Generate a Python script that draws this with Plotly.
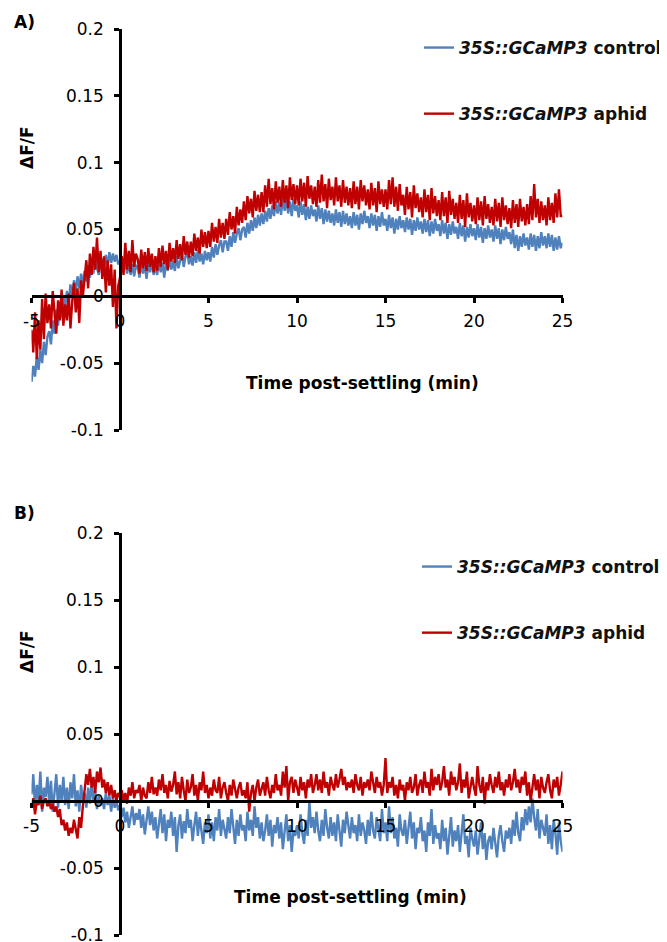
import plotly.graph_objects as go

# Time post-settling (min), sampled every 0.1 min from -5 to 25
T_START, T_STEP = -5.0, 0.1

# ΔF/F values x 1000 (one row = one minute)
control_a_x1000 = [
    -64, -52, -60, -45, -55, -40, -50, -34, -44, -30,
    -26, -36, -18, -28, -10, -22, -4, -16, 0, -8,
    4, -6, 9, 0, 12, 3, 15, 6, 17, 9,
    19, 11, 23, 14, 25, 17, 27, 20, 16, 26,
    28, 21, 31, 23, 33, 25, 32, 26, 31, 24,
    26, 30, 19, 27, 17, 25, 16, 24, 15, 23,
    22, 14, 25, 17, 24, 13, 26, 18, 27, 16,
    23, 16, 27, 18, 25, 14, 26, 19, 28, 20,
    26, 19, 30, 21, 28, 32, 22, 30, 33, 24,
    30, 23, 33, 25, 35, 26, 32, 24, 34, 27,
    33, 26, 37, 29, 39, 31, 38, 42, 33, 41,
    41, 34, 45, 37, 48, 40, 47, 51, 42, 50,
    52, 44, 55, 47, 57, 49, 59, 51, 61, 53,
    62, 54, 64, 56, 66, 58, 68, 60, 71, 62,
    70, 61, 74, 64, 72, 62, 71, 60, 73, 64,
    68, 59, 71, 61, 69, 57, 67, 58, 68, 60,
    65, 56, 68, 58, 66, 54, 65, 56, 64, 55,
    62, 53, 65, 55, 63, 52, 64, 54, 62, 53,
    60, 51, 63, 53, 61, 50, 62, 54, 64, 55,
    60, 51, 62, 53, 61, 49, 60, 52, 63, 53,
    58, 49, 61, 51, 59, 47, 58, 50, 60, 51,
    57, 48, 59, 50, 58, 46, 57, 49, 59, 50,
    56, 47, 58, 48, 57, 45, 56, 47, 58, 49,
    54, 45, 57, 47, 55, 43, 54, 46, 56, 47,
    52, 43, 55, 45, 53, 41, 52, 44, 54, 45,
    51, 42, 54, 44, 52, 40, 51, 43, 53, 44,
    50, 41, 53, 43, 51, 39, 50, 42, 52, 43,
    48, 39, 50, 36, 46, 34, 45, 37, 47, 38,
    44, 35, 47, 37, 46, 34, 45, 36, 48, 38,
    45, 36, 47, 37, 46, 34, 44, 35, 45, 36,
    40,
]

aphid_a_x1000 = [
    -25, -42, -12, -47, -18, -40, -2, -32, 2, -20,
    -6, -24, 4, -14, -28, -3, -18, 5, -22, -6,
    -18, 2, -24, -4, 10, -12, 6, -20, 12, 0,
    14, 27, 6, 32, 16, 37, 20, 44, 18, 34,
    13, 30, 3, 27, 8, 24, -8, 20, -24, 8,
    14, 30, 16, 40, 20, 34, 18, 42, 22, 32,
    28, 17, 35, 21, 33, 19, 36, 22, 32, 18,
    30, 19, 36, 22, 38, 24, 34, 20, 40, 26,
    36, 25, 42, 28, 39, 27, 45, 31, 41, 29,
    41, 30, 47, 34, 44, 32, 50, 37, 48, 36,
    49, 37, 55, 41, 52, 40, 58, 44, 55, 43,
    58, 46, 63, 50, 60, 47, 67, 53, 65, 55,
    71, 57, 75, 62, 73, 59, 79, 64, 76, 63,
    78, 63, 83, 67, 88, 69, 81, 65, 86, 70,
    82, 67, 87, 70, 83, 66, 89, 72, 84, 69,
    83, 68, 88, 71, 85, 67, 90, 73, 83, 69,
    82, 67, 87, 70, 91, 71, 84, 66, 88, 72,
    82, 68, 89, 71, 83, 67, 87, 70, 82, 68,
    81, 66, 86, 69, 82, 65, 87, 71, 83, 68,
    80, 65, 85, 68, 81, 63, 86, 69, 80, 67,
    80, 65, 87, 69, 89, 67, 82, 64, 84, 68,
    76, 61, 82, 65, 78, 59, 83, 66, 77, 63,
    74, 59, 80, 63, 76, 57, 81, 62, 75, 60,
    72, 57, 78, 60, 74, 55, 79, 61, 73, 58,
    70, 55, 76, 58, 72, 52, 77, 59, 70, 56,
    68, 54, 74, 57, 71, 53, 75, 58, 69, 55,
    67, 53, 73, 56, 70, 52, 74, 57, 68, 54,
    66, 51, 72, 55, 69, 52, 73, 56, 67, 53,
    69, 54, 75, 57, 84, 59, 73, 55, 71, 57,
    68, 53, 74, 57, 70, 55, 77, 59, 80, 60,
    60,
]

control_b_x1000 = [
    5, 20, -5, 12, 0, 22, -8, 10, 3, 18,
    -2, 15, -8, 8, 20, -5, 12, 0, 18, -3,
    10, -6, 14, 2, 20, -4, 8, -8, 12, 0,
    6, -5, 10, -2, 14, 0, 8, -6, 4, -3,
    2, -6, 6, -3, 4, -8, 3, -5, 0, -7,
    -3, -12, -5, -16, -8, -20, -10, -4, -18, -9,
    -14, -6, -20, -10, -25, -12, -4, -18, -8, -22,
    -12, -28, -15, -6, -24, -10, -30, -14, -20, -8,
    -26, -12, -38, -18, -10, -28, -15, -24, -6, -20,
    -14, -30, -18, -8, -26, -12, -22, -32, -16, -24,
    -10, -28, -16, -30, -12, -22, -6, -26, -14, -20,
    -28, -12, -24, -6, -20, -32, -14, -26, -10, -22,
    -18, -30, -8, -22, -14, -26, -4, -20, -12, -28,
    -16, -30, -22, -10, -26, -14, -34, -18, -24, -12,
    -28, -16, -36, -20, -10, -30, -18, -38, -22, -26,
    -18, -28, -10, -24, -32, -14, -26, 0, -20, -12,
    -24, -8, -22, -30, -14, -26, -6, -20, -28, -12,
    -26, -16, -30, -10, -22, -34, -14, -24, -8, -20,
    -28, -12, -24, -18, -30, -10, -26, -16, -22, -32,
    -14, -26, -8, -22, -28, -12, -20, -30, -6, -24,
    -16, -30, -4, -24, -12, -28, -20, -34, -10, -22,
    -26, -14, -32, -18, -8, -28, -16, -36, -20, -24,
    -12, -30, -22, -38, -16, -26, -6, -32, -18, -28,
    -24, -36, -14, -30, -20, -40, -26, -12, -34, -22,
    -30, -18, -38, -24, -10, -32, -26, -42, -20, -28,
    -34, -22, -40, -28, -16, -36, -24, -44, -30, -26,
    -36, -20, -32, -42, -26, -18, -30, -38, -22, -28,
    -20, -32, -14, -26, -8, -24, -30, -12, -22, -6,
    -18, -4, -16, 2, -12, -22, -6, -28, -14, -20,
    -26, -10, -32, -18, -36, -14, -24, -40, -16, -30,
    -38,
]

aphid_b_x1000 = [
    -5, 2, -10, 0, -3, 4, -6, 0, 2, -4,
    0, -6, -2, -8, -4, -12, -6, -18, -14, -22,
    -16, -26, -20, -24, -14, -22, -28, -12, -20, -4,
    8, 20, 12, 24, 10, 18, 6, 22, 14, 25,
    10, 16, 6, 14, 4, 12, 2, 8, 0, 6,
    3, 8, 0, 6, -2, 10, 4, 14, 2, 8,
    6, 12, 0, 10, 4, 2, 14, 6, 18, 5,
    10, 4, 16, 8, 20, 6, 12, 2, 15, 7,
    12, 22, 5, 14, 2, 18, 8, 0, 16, 6,
    10, 20, 4, 12, 0, 14, 8, 22, 6, 12,
    2, 10, 4, 16, 8, 6, 18, 2, 10, 14,
    6, 0, 12, 4, 16, 8, 2, 10, 14, 4,
    8, 2, 14, -8, 6, 12, 0, 10, 16, 4,
    10, 14, 4, 18, 8, 2, 12, 6, 20, 8,
    12, 4, 22, 10, 26, 0, 14, 18, 6, 16,
    10, 4, 18, 8, 14, 2, 16, 10, 20, 6,
    12, 20, 8, 16, 6, 22, 10, 14, 4, 18,
    12, 8, 20, 10, 16, 24, 12, 18, 8, 14,
    10, 16, 6, 20, 12, 8, 18, 4, 14, 10,
    16, 8, 22, 12, 6, 18, 10, 14, 4, 12,
    32, 6, 14, 10, 18, 4, 12, 2, 16, 8,
    12, 0, 14, 8, 18, 6, 10, 20, 4, 12,
    16, 6, 22, 10, 14, 4, 24, 8, 18, 12,
    20, 8, 14, 26, 10, 16, 4, 22, 12, 18,
    8, 14, 28, 6, 16, 10, 22, 2, 12, 18,
    10, 4, 26, 12, 6, 18, -2, 14, 8, 20,
    12, 6, 18, 10, 22, 8, 14, 4, 16, 10,
    20, 8, 14, 24, 10, 16, 6, 18, 12, 22,
    4, 14, 0, 12, 20, 8, 16, 2, 18, 10,
    6, 14, 20, 8, 2, 16, 10, 18, 4, 12,
    22,
]

x_tick_vals = [-5, 0, 5, 10, 15, 20, 25]
x_tick_text = ["-5", "0", "5", "10", "15", "20", "25"]
y_tick_vals = [-0.1, -0.05, 0, 0.05, 0.1, 0.15, 0.2]
y_tick_text = ["-0.1", "-0.05", "0", "0.05", "0.1", "0.15", "0.2"]

legend_control = "<b><i>35S::GCaMP3</i> control</b>"
legend_aphid = "<b><i>35S::GCaMP3</i> aphid</b>"

BLUE = "#4F81BD"
RED = "#C00000"
FONT = "DejaVu Sans"
W, H = 667, 942
OFF = 8  # page body margin: figure starts 8 px from the window's edge


def px(x):
    return (x - OFF) / W


def py(y):
    return 1 - (y - OFF) / H


def times_for(vals):
    return [round(T_START + T_STEP * i, 1) for i in range(len(vals))]


def scale(vals):
    return [v / 1000.0 for v in vals]


fig = go.Figure()

LW = 2.4
fig.add_trace(go.Scatter(x=times_for(control_a_x1000), y=scale(control_a_x1000),
                         mode="lines", line=dict(color=BLUE, width=LW),
                         name=legend_control, legendgroup="a1", legend="legend",
                         xaxis="x", yaxis="y"))
fig.add_trace(go.Scatter(x=times_for(aphid_a_x1000), y=scale(aphid_a_x1000),
                         mode="lines", line=dict(color=RED, width=LW),
                         name=legend_aphid, legendgroup="a2", legend="legend",
                         xaxis="x", yaxis="y"))
fig.add_trace(go.Scatter(x=times_for(control_b_x1000), y=scale(control_b_x1000),
                         mode="lines", line=dict(color=BLUE, width=LW),
                         name=legend_control, legendgroup="b1", legend="legend2",
                         xaxis="x2", yaxis="y2"))
fig.add_trace(go.Scatter(x=times_for(aphid_b_x1000), y=scale(aphid_b_x1000),
                         mode="lines", line=dict(color=RED, width=LW),
                         name=legend_aphid, legendgroup="b2", legend="legend2",
                         xaxis="x2", yaxis="y2"))

XR = [-5, 25]
YR = [-0.1, 0.2]
xdom = [px(31.5), px(562.5)]
ydom_a = [py(430), py(29)]
ydom_b = [py(935), py(533)]


def frac(v, r):
    return (v - r[0]) / (r[1] - r[0])


y_axis_pos = xdom[0] + frac(0, XR) * (xdom[1] - xdom[0])
x_axis_pos_a = ydom_a[0] + frac(0, YR) * (ydom_a[1] - ydom_a[0])
x_axis_pos_b = ydom_b[0] + frac(0, YR) * (ydom_b[1] - ydom_b[0])

tickfont = dict(family=FONT, size=17, color="black")
common_x = dict(range=XR, domain=xdom, tickvals=x_tick_vals, ticktext=x_tick_text,
                showgrid=False, zeroline=False, showline=True, linecolor="black",
                linewidth=2.5, ticks="outside", ticklen=5, tickwidth=2.5,
                tickcolor="black", tickfont=tickfont, anchor="free",
                ticklabelstandoff=4, fixedrange=True)
common_y = dict(range=YR, tickvals=y_tick_vals, ticktext=y_tick_text,
                showgrid=False, zeroline=False, showline=True, linecolor="black",
                linewidth=2.5, ticks="outside", ticklen=5, tickwidth=2.5,
                tickcolor="black", tickfont=tickfont, anchor="free",
                position=y_axis_pos, ticklabelstandoff=7, fixedrange=True)

legend_font = dict(family=FONT, size=17, color="#111")
fig.update_layout(
    width=W, height=H, autosize=False,
    margin=dict(l=0, r=0, t=0, b=0, autoexpand=False),
    paper_bgcolor="white", plot_bgcolor="white",
    font=dict(family=FONT, size=17, color="black"),
    xaxis=dict(**common_x, position=x_axis_pos_a),
    yaxis=dict(**common_y, domain=ydom_a),
    xaxis2=dict(**common_x, position=x_axis_pos_b),
    yaxis2=dict(**common_y, domain=ydom_b),
    legend=dict(x=px(419), y=py(30), xanchor="left", yanchor="top",
                bgcolor="rgba(0,0,0,0)", borderwidth=0, tracegroupgap=41,
                font=legend_font, itemwidth=30),
    legend2=dict(x=px(417), y=py(549), xanchor="left", yanchor="top",
                 bgcolor="rgba(0,0,0,0)", borderwidth=0, tracegroupgap=41,
                 font=legend_font, itemwidth=30),
    showlegend=True,
)

titles = [
    dict(text="<b>A)</b>", x=px(12), y=py(22), xanchor="left", yanchor="middle"),
    dict(text="<b>B)</b>", x=px(12), y=py(513), xanchor="left", yanchor="middle"),
    dict(text="<b>ΔF/F</b>", x=px(27), y=py(148), xanchor="center", yanchor="middle", textangle=-90),
    dict(text="<b>ΔF/F</b>", x=px(27), y=py(652), xanchor="center", yanchor="middle", textangle=-90),
    dict(text="<b>Time post-settling (min)</b>", x=px(362), y=py(383), xanchor="center", yanchor="middle"),
    dict(text="<b>Time post-settling (min)</b>", x=px(351), y=py(897), xanchor="center", yanchor="middle"),
]
for t in titles:
    fig.add_annotation(xref="paper", yref="paper", showarrow=False,
                       font=dict(family=FONT, size=17, color="black"), **t)

fig.write_html("out.html")
